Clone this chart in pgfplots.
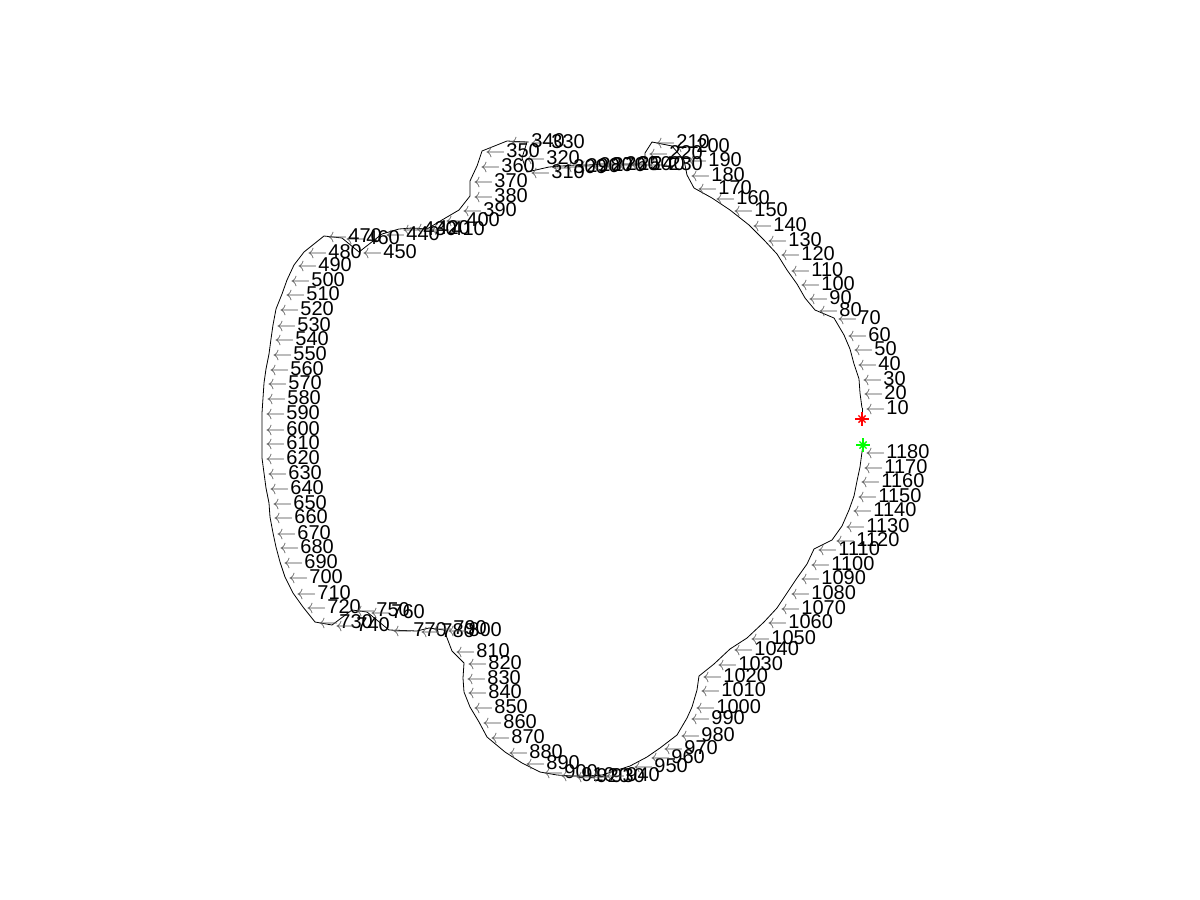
\documentclass[border=0pt]{standalone}
\usepackage{fontspec}
\setmainfont{Liberation Sans}
\usepackage{pgfplots}
\usepackage{pgfplotstable}
\pgfplotsset{compat=1.18}

% label positions (arrow tip), pixel units, y downwards
\pgfplotstableread{
x y lab
865 408 10
863 393 20
862 379 30
857 364 40
853 349 50
847 335 60
837 318 70
818 310 80
808 298 90
800 284 100
790 270 110
780 254 120
767 240 130
752 225 140
733 210 150
715 198 160
697 188 170
690 175 180
687 160 190
675 146 200
655 142 210
648 153 220
648 164 230
630 164 240
617 164 250
604 164 260
591 165 270
578 165 280
565 166 290
552 167 300
530 172 310
525 158 320
530 142 330
510 141 340
485 151 350
480 166 360
473 181 370
473 196 380
462 210 390
445 220 400
430 229 410
415 228 420
402 229 430
385 234 440
362 252 450
345 238 460
327 236 470
307 252 480
297 265 490
290 280 500
285 294 510
279 309 520
276 325 530
274 339 540
272 354 550
269 369 560
267 383 570
266 398 580
265 413 590
265 429 600
265 443 610
265 458 620
267 473 630
269 488 640
272 503 650
273 517 660
276 533 670
279 547 680
283 562 690
288 577 700
296 593 710
306 607 720
318 622 730
335 625 740
355 610 750
370 612 760
392 630 770
420 631 780
432 628 790
447 630 800
455 651 810
467 663 820
466 678 830
467 692 840
473 707 850
482 722 860
490 737 870
508 752 880
525 763 890
543 772 900
560 775 910
575 776 920
590 776 930
605 775 940
633 766 950
650 757 960
663 748 970
680 735 980
690 718 990
695 707 1000
700 690 1010
702 676 1020
717 664 1030
733 649 1040
750 638 1050
767 622 1060
780 608 1070
790 593 1080
800 578 1090
810 564 1100
817 549 1110
835 540 1120
845 526 1130
852 510 1140
857 496 1150
860 481 1160
863 467 1170
865 452 1180
}\labels

\begin{document}
\begin{tikzpicture}
\begin{axis}[
  width=600pt, height=450pt, scale only axis,
  xmin=0, xmax=1200, ymin=0, ymax=900,
  y dir=reverse, hide axis, clip=false,
]
% keep the full canvas in the bounding box
\addplot[draw=none, forget plot] coordinates {(0,0) (1200,900)};

% contour
\addplot[black, line width=0.4pt] coordinates {(862,419) (862,408)};
\addplot[black, line width=0.4pt] table[x expr=\thisrow{x}-3, y=y] {\labels};
\addplot[black, line width=0.4pt] coordinates {(862,452) (863,445)};

% labels every 10 points
\addplot[draw=none, point meta=explicit symbolic,
  nodes near coords={\textcolor{black!65}{$\leftarrow$}\kern0.5pt\pgfplotspointmeta},
  every node near coord/.append style={anchor=west, inner sep=0pt,
    font=\fontsize{10}{11}\selectfont, text=black}]
  table[x=x, y=y, meta=lab] {\labels};

% start and end markers
\addplot[red, only marks, mark=+, mark size=3.4pt, line width=0.7pt] coordinates {(862,419)};
\addplot[red, only marks, mark=x, mark size=2.5pt, line width=0.7pt] coordinates {(862,419)};
\addplot[green, only marks, mark=+, mark size=3.4pt, line width=0.7pt] coordinates {(863,445)};
\addplot[green, only marks, mark=x, mark size=2.5pt, line width=0.7pt] coordinates {(863,445)};
\end{axis}
\end{tikzpicture}
\end{document}
